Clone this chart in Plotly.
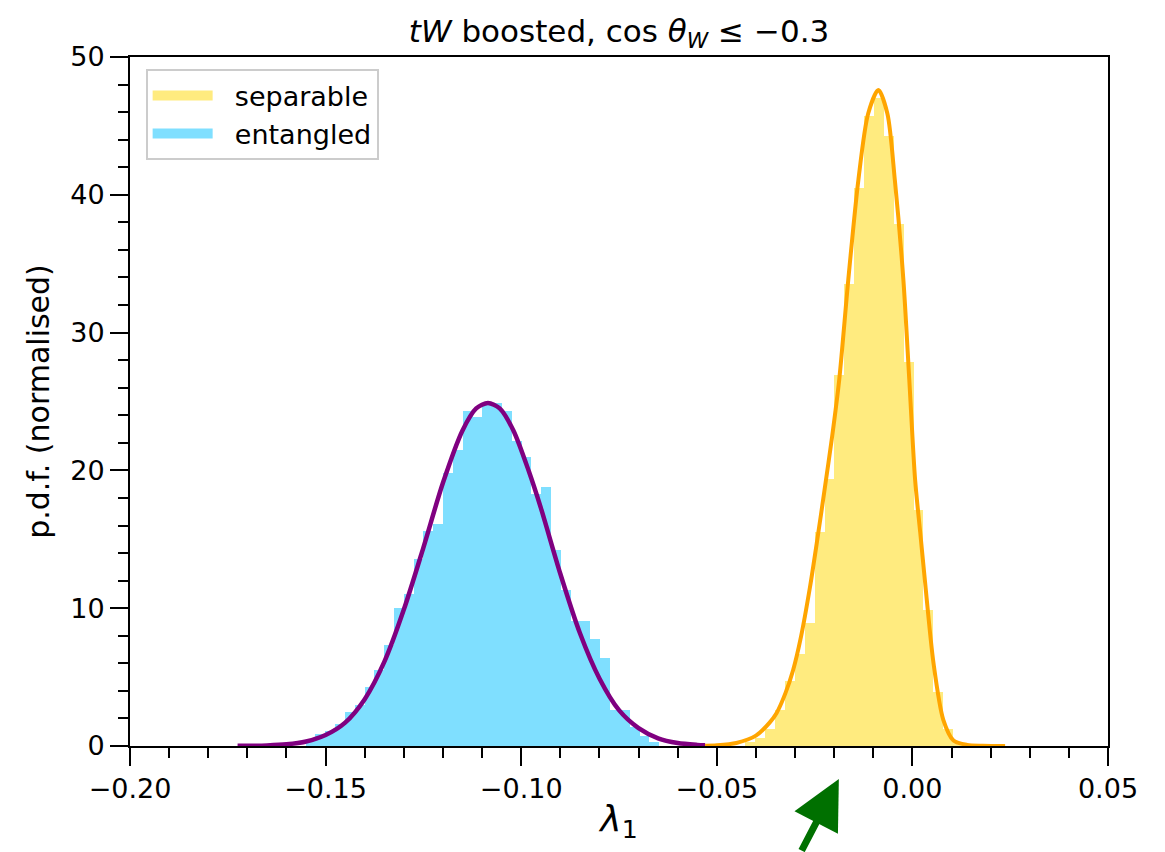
import plotly.graph_objects as go

# ---------------- data ----------------
bin_width_ent = 0.00251
ent_left_edges = [-0.15510, -0.15259, -0.15008, -0.14757, -0.14506, -0.14255, -0.14004, -0.13753,
                  -0.13502, -0.13251, -0.13000, -0.12749, -0.12498, -0.12247, -0.11996, -0.11745,
                  -0.11494, -0.11243, -0.10992, -0.10741, -0.10490, -0.10239, -0.09988, -0.09737,
                  -0.09486, -0.09235, -0.08984, -0.08733, -0.08482, -0.08231, -0.07980, -0.07729,
                  -0.07478, -0.07227, -0.06976, -0.06725]
ent_density = [0.4, 0.9, 1.1, 1.6, 2.5, 3.0, 4.3, 5.5, 7.3, 10.0, 11.0, 13.6, 15.6, 16.1, 19.8, 21.5,
               24.3, 23.9, 24.9, 24.9, 24.3, 22.1, 21.0, 18.3, 18.8, 14.2, 11.3, 9.1, 9.1, 7.8, 6.4, 2.6,
               2.6, 1.4, 0.7, 0.3]

bin_width_sep = 0.00253
sep_left_edges = [-0.04271, -0.04018, -0.03765, -0.03512, -0.03259, -0.03006, -0.02753, -0.02500,
                  -0.02247, -0.01994, -0.01741, -0.01488, -0.01235, -0.00982, -0.00729, -0.00476,
                  -0.00223, 0.00030, 0.00283, 0.00536, 0.00789, 0.01042, 0.01295]
sep_density = [0.3, 0.6, 1.2, 2.6, 4.7, 6.7, 8.9, 15.5, 19.4, 26.9, 33.5, 40.5, 45.7, 47.0, 44.3, 37.9,
               27.9, 17.1, 9.9, 3.9, 1.2, 0.3, 0.1]

ent_curve_x = [-0.1725, -0.170, -0.165, -0.160, -0.155, -0.150, -0.145, -0.140, -0.135, -0.130,
               -0.125, -0.120, -0.115, -0.1115, -0.1085, -0.1055, -0.102, -0.098, -0.095, -0.090,
               -0.085, -0.080, -0.075, -0.070, -0.065, -0.060, -0.055, -0.053]
ent_curve_y = [0.01, 0.013, 0.04, 0.12, 0.33, 0.8, 1.7, 3.4, 6.1, 9.9,
               14.4, 19.1, 22.9, 24.5, 24.9, 24.5, 22.9, 19.9, 17.3, 12.5,
               8.2, 4.9, 2.6, 1.3, 0.56, 0.22, 0.08, 0.05]

sep_curve_x = [-0.053, -0.050, -0.045, -0.040, -0.0365, -0.0347, -0.0325, -0.0305, -0.0285, -0.0262,
               -0.0243, -0.0225, -0.0205, -0.0187, -0.0164, -0.0138, -0.0113, -0.0087, -0.0064, -0.0045,
               -0.0023, -0.0008, 0.0007, 0.0020, 0.0032, 0.0054, 0.0079, 0.0105, 0.014, 0.018, 0.0237]
sep_curve_y = [0.02, 0.05, 0.22, 0.75, 1.7, 2.4, 3.8, 5.5, 7.9, 11.5,
               15.0, 18.5, 22.5, 26.6, 33.8, 41.1, 45.9, 47.6, 45.9, 41.1,
               33.8, 26.6, 19.3, 15.5, 12.0, 6.0, 1.9, 0.4, 0.08, 0.02, 0.0]

arrow_x = -0.0188  # position along lambda_1 that the green arrow points to

sep_color = "rgba(255,215,0,0.5)"
ent_color = "rgba(0,191,255,0.5)"
FONT = "DejaVu Sans, Liberation Sans, sans-serif"

fig = go.Figure()

fig.add_trace(go.Bar(x=ent_left_edges, y=ent_density, width=bin_width_ent, offset=0,
                     marker=dict(color=ent_color, line=dict(width=0)), showlegend=False,
                     name="entangled"))
fig.add_trace(go.Bar(x=sep_left_edges, y=sep_density, width=bin_width_sep, offset=0,
                     marker=dict(color=sep_color, line=dict(width=0)), showlegend=False,
                     name="separable"))

fig.add_trace(go.Scatter(x=ent_curve_x, y=ent_curve_y, mode="lines",
                         line=dict(color="purple", width=4.5, shape="spline", smoothing=0.8),
                         showlegend=False))
fig.add_trace(go.Scatter(x=sep_curve_x, y=sep_curve_y, mode="lines",
                         line=dict(color="orange", width=4, shape="spline", smoothing=0.8),
                         showlegend=False))

# legend proxies (wide colour patches like the reference)
fig.add_trace(go.Scatter(x=[None], y=[None], mode="lines", name="  separable",
                         line=dict(color=sep_color, width=20)))
fig.add_trace(go.Scatter(x=[None], y=[None], mode="lines", name="  entangled",
                         line=dict(color=ent_color, width=20)))

fig.add_annotation(x=arrow_x, xref="x", y=-0.048, yref="paper", text="", showarrow=True,
                   ax=-38, ay=82, arrowhead=2, arrowsize=1.4, arrowwidth=7,
                   arrowcolor="#007000")

axis_common = dict(showline=True, linecolor="black", linewidth=2, mirror=True,
                   ticks="outside", tickcolor="black", tickwidth=2, ticklen=18,
                   showgrid=False, zeroline=False,
                   tickfont=dict(family=FONT, size=27, color="black"))

fig.update_xaxes(range=[-0.2, 0.05], tickvals=[-0.20, -0.15, -0.10, -0.05, 0.00, 0.05],
                 ticktext=["\u22120.20", "\u22120.15", "\u22120.10", "\u22120.05", "0.00", "0.05"],
                 minor=dict(ticks="outside", dtick=0.01, ticklen=10, tickwidth=2, tickcolor="black",
                            showgrid=False),
                 title=dict(text="<i>\u03bb</i><sub>1</sub>", font=dict(family=FONT, size=36, color="black"),
                            standoff=2),
                 **axis_common)
fig.update_yaxes(range=[0, 50], tickvals=[0, 10, 20, 30, 40, 50],
                 minor=dict(ticks="outside", dtick=2, ticklen=10, tickwidth=2, tickcolor="black",
                            showgrid=False),
                 title=dict(text="p.d.f. (normalised)", font=dict(family=FONT, size=30, color="black"),
                            standoff=12),
                 **axis_common)

# the page has an 8px body margin, so the figure is drawn 8px smaller and margins shifted
fig.update_layout(
    width=1157, height=844,
    margin=dict(l=122, r=57, t=49, b=106),
    paper_bgcolor="white", plot_bgcolor="white",
    barmode="overlay", bargap=0,
    title=dict(text="<i>tW</i> boosted, cos <i>\u03b8</i><sub><i>W</i></sub> \u2264 \u22120.3",
               x=0.5, xanchor="center", xref="paper", y=0.973, yanchor="middle",
               font=dict(family=FONT, size=31, color="black")),
    legend=dict(x=0.016, y=0.982, xanchor="left", yanchor="top",
                bgcolor="white", bordercolor="#cccccc", borderwidth=2,
                font=dict(family=FONT, size=27, color="black"),
                itemwidth=60, tracegroupgap=4),
    showlegend=True,
)

fig.write_html("out.html")
